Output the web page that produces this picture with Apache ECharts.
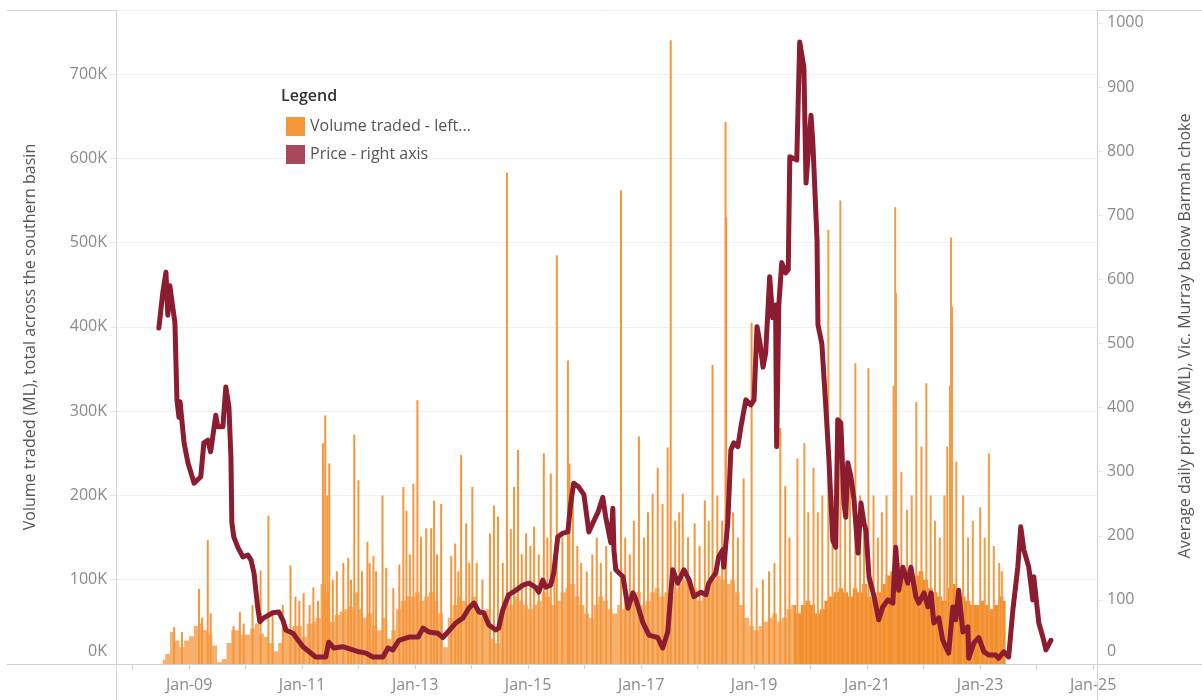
<!DOCTYPE html>
<html>
<head>
<meta charset="utf-8">
<script src="https://cdn.jsdelivr.net/npm/echarts@6/dist/echarts.min.js"></script>
<style>
html,body{margin:0;padding:0;background:#ffffff;}
#chart{width:1202px;height:700px;}
</style>
</head>
<body>
<div id="chart"></div>
<script>
// ---------------- DATA ----------------
// Monthly typical traded volume (thousand ML) - the dense base of daily bars
const volumeMonthly = [
  ['2008-07',5],['2008-08',12],['2008-09',38],['2008-10',28],['2008-11',20],['2008-12',28],
  ['2009-01',33],['2009-02',45],['2009-03',48],['2009-04',40],['2009-05',35],['2009-06',22],['2009-07',2],['2009-08',6],['2009-09',25],['2009-10',40],['2009-11',40],['2009-12',35],
  ['2010-01',35],['2010-02',42],['2010-03',48],['2010-04',36],['2010-05',32],['2010-06',25],['2010-07',15],['2010-08',25],['2010-09',45],['2010-10',40],['2010-11',45],['2010-12',45],
  ['2011-01',32],['2011-02',48],['2011-03',50],['2011-04',55],['2011-05',95],['2011-06',85],['2011-07',50],['2011-08',58],['2011-09',62],['2011-10',65],['2011-11',68],['2011-12',85],
  ['2012-01',65],['2012-02',55],['2012-03',60],['2012-04',45],['2012-05',40],['2012-06',55],['2012-07',30],['2012-08',40],['2012-09',65],['2012-10',75],['2012-11',80],['2012-12',80],
  ['2013-01',85],['2013-02',75],['2013-03',80],['2013-04',85],['2013-05',75],['2013-06',60],['2013-07',20],['2013-08',55],['2013-09',70],['2013-10',80],['2013-11',75],['2013-12',70],
  ['2014-01',80],['2014-02',60],['2014-03',55],['2014-04',65],['2014-05',30],['2014-06',25],['2014-07',60],['2014-08',75],['2014-09',70],['2014-10',80],['2014-11',75],['2014-12',70],
  ['2015-01',65],['2015-02',70],['2015-03',75],['2015-04',85],['2015-05',80],['2015-06',70],['2015-07',75],['2015-08',85],['2015-09',90],['2015-10',95],['2015-11',80],['2015-12',70],
  ['2016-01',60],['2016-02',55],['2016-03',70],['2016-04',80],['2016-05',75],['2016-06',65],['2016-07',60],['2016-08',70],['2016-09',65],['2016-10',75],['2016-11',80],['2016-12',85],
  ['2017-01',70],['2017-02',75],['2017-03',85],['2017-04',90],['2017-05',80],['2017-06',85],['2017-07',80],['2017-08',90],['2017-09',95],['2017-10',100],['2017-11',95],['2017-12',90],
  ['2018-01',75],['2018-02',80],['2018-03',95],['2018-04',100],['2018-05',105],['2018-06',100],['2018-07',95],['2018-08',100],['2018-09',85],['2018-10',70],['2018-11',55],['2018-12',45],
  ['2019-01',40],['2019-02',45],['2019-03',50],['2019-04',55],['2019-05',60],['2019-06',50],['2019-07',55],['2019-08',65],['2019-09',70],['2019-10',60],['2019-11',70],['2019-12',75],
  ['2020-01',70],['2020-02',60],['2020-03',65],['2020-04',75],['2020-05',80],['2020-06',85],['2020-07',90],['2020-08',85],['2020-09',80],['2020-10',90],['2020-11',85],['2020-12',95],
  ['2021-01',80],['2021-02',75],['2021-03',85],['2021-04',95],['2021-05',105],['2021-06',110],['2021-07',120],['2021-08',115],['2021-09',100],['2021-10',95],['2021-11',105],['2021-12',110],
  ['2022-01',100],['2022-02',90],['2022-03',85],['2022-04',80],['2022-05',75],['2022-06',90],['2022-07',95],['2022-08',85],['2022-09',80],['2022-10',75],['2022-11',70],['2022-12',70],
  ['2023-01',75],['2023-02',70],['2023-03',65],['2023-04',70],['2023-05',80],['2023-06',75]
];

// Notable single-day volume peaks (thousand ML)
const volumePeaks = [
  ['2008-09-20',44],['2008-11-10',38],
  ['2009-02-28',89],['2009-03-20',55],['2009-04-26',147],['2009-05-15',60],['2009-10-10',45],['2009-11-20',62],['2009-12-15',48],
  ['2010-02-10',70],['2010-04-03',111],['2010-05-24',176],['2010-06-20',60],['2010-08-25',70],['2010-10-14',117],['2010-11-15',80],['2010-12-10',75],
  ['2011-01-07',84],['2011-02-15',70],['2011-03-11',91],['2011-04-10',75],['2011-05-12',262],['2011-05-27',295],['2011-06-10',200],['2011-06-22',238],['2011-07-15',100],['2011-08-10',110],['2011-09-21',120],['2011-10-23',126],['2011-11-10',100],['2011-12-01',272],['2011-12-28',218],
  ['2012-01-20',110],['2012-02-24',145],['2012-03-10',120],['2012-04-03',128],['2012-04-20',110],['2012-06-01',200],['2012-06-25',114],['2012-08-10',90],['2012-09-18',118],['2012-10-14',210],['2012-11-03',182],['2012-11-25',130],['2012-12-18',214],
  ['2013-01-13',313],['2013-02-05',151],['2013-03-11',161],['2013-04-12',161],['2013-05-01',194],['2013-05-20',130],['2013-06-16',190],['2013-08-20',128],['2013-09-15',143],['2013-10-05',110],['2013-10-23',248],['2013-11-25',167],['2013-12-15',120],
  ['2014-01-04',210],['2014-02-01',120],['2014-03-10',100],['2014-04-28',155],['2014-05-24',188],['2014-06-19',175],['2014-07-20',120],['2014-08-16',583],['2014-09-10',160],['2014-10-01',210],['2014-10-27',254],['2014-11-20',130],['2014-12-18',155],
  ['2015-01-15',140],['2015-02-08',163],['2015-03-10',130],['2015-04-12',250],['2015-05-05',150],['2015-05-27',226],['2015-06-20',120],['2015-07-05',485],['2015-08-10',150],['2015-09-15',360],['2015-09-25',238],['2015-10-17',200],['2015-11-15',140],['2015-12-10',120],
  ['2016-01-15',110],['2016-02-20',130],['2016-03-20',150],['2016-04-15',120],['2016-05-20',140],['2016-06-20',110],['2016-08-24',562],['2016-09-20',150],['2016-10-20',130],['2016-11-15',170],['2016-12-18',270],
  ['2017-01-20',150],['2017-02-15',180],['2017-03-17',202],['2017-04-19',233],['2017-05-20',190],['2017-06-22',257],['2017-07-12',740],['2017-08-10',170],['2017-09-05',180],['2017-09-28',202],['2017-11-01',150],['2017-12-14',167],
  ['2018-01-15',140],['2018-02-18',194],['2018-03-15',170],['2018-04-09',355],['2018-05-10',200],['2018-06-10',170],['2018-07-02',643],['2018-07-06',530],['2018-08-20',180],['2018-09-20',150],['2018-10-27',220],['2018-12-18',405],
  ['2019-01-20',90],['2019-03-01',100],['2019-04-10',110],['2019-05-15',120],['2019-06-22',280],['2019-07-24',211],['2019-08-20',150],['2019-10-11',244],['2019-11-25',262],['2019-12-20',180],
  ['2020-01-23',233],['2020-02-20',180],['2020-03-20',200],['2020-04-28',515],['2020-05-25',200],['2020-06-20',250],['2020-07-15',550],['2020-08-15',230],['2020-09-15',210],['2020-10-20',357],['2020-11-20',200],['2020-12-15',180],
  ['2021-01-13',351],['2021-02-15',200],['2021-03-15',150],['2021-04-10',180],['2021-05-10',200],['2021-06-25',330],['2021-07-05',542],['2021-07-10',440],['2021-08-14',228],['2021-09-20',183],['2021-10-20',200],['2021-11-19',311],['2021-12-22',258],
  ['2022-01-23',333],['2022-02-20',200],['2022-03-20',170],['2022-04-20',150],['2022-05-20',200],['2022-06-07',258],['2022-06-25',330],['2022-07-02',506],['2022-07-08',424],['2022-08-05',240],['2022-09-18',200],['2022-10-20',150],['2022-11-20',170],
  ['2023-01-07',186],['2023-02-05',150],['2023-03-04',250],['2023-04-05',140],['2023-05-10',120],['2023-05-27',110]
];

// Average daily price ($/ML)
const pricePoints = [
  ['2008-06-19',524],['2008-07-15',580],['2008-08-04',611],['2008-08-16',544],['2008-08-29',590],['2008-09-12',565],['2008-10-01',532],['2008-10-14',412],['2008-10-27',385],['2008-11-03',409],['2008-11-29',345],['2008-12-24',314],
  ['2009-02-02',282],['2009-03-17',292],['2009-04-06',345],['2009-05-01',349],['2009-05-20',331],['2009-06-22',388],['2009-07-05',370],['2009-08-07',370],['2009-08-26',432],['2009-09-15',401],['2009-09-28',323],['2009-10-04',220],['2009-10-17',198],['2009-11-12',182],['2009-12-14',167],
  ['2010-01-16',170],['2010-02-05',162],['2010-02-24',142],['2010-03-20',89],['2010-04-03',66],['2010-04-28',72],['2010-06-25',80],['2010-08-04',81],['2010-08-29',69],['2010-09-18',53],['2010-11-03',48],
  ['2011-01-07',27],['2011-03-30',11],['2011-06-03',11],['2011-06-22',34],['2011-07-24',25],['2011-09-21',27],
  ['2012-01-04',19],['2012-02-18',17],['2012-04-03',11],['2012-06-07',11],['2012-07-09',25],['2012-08-10',22],['2012-09-18',37],['2012-11-22',42],
  ['2013-01-20',42],['2013-02-21',56],['2013-03-30',50],['2013-05-27',48],['2013-06-29',41],['2013-08-01',50],['2013-09-21',64],['2013-11-07',72],['2013-12-14',87],
  ['2014-01-16',95],['2014-02-18',81],['2014-03-20',80],['2014-04-22',61],['2014-06-07',53],['2014-06-25',56],['2014-07-21',84],['2014-08-29',108],['2014-10-14',115],['2014-11-29',123],
  ['2015-01-07',126],['2015-02-21',119],['2015-03-11',112],['2015-04-06',131],['2015-04-25',120],['2015-05-27',123],['2015-06-16',142],['2015-07-12',198],['2015-08-13',204],['2015-09-15',206],['2015-10-04',251],['2015-10-23',282],['2015-11-25',276],['2015-12-28',264],
  ['2016-01-29',206],['2016-02-24',220],['2016-03-27',236],['2016-04-28',260],['2016-05-17',229],['2016-06-19',189],['2016-07-02',243],['2016-07-09',178],['2016-07-21',147],['2016-09-06',136],['2016-10-08',87],['2016-11-09',111],['2016-11-29',100],
  ['2017-01-13',64],['2017-02-21',45],['2017-04-19',41],['2017-05-20',25],['2017-06-22',50],['2017-07-24',147],['2017-08-26',126],['2017-10-04',147],['2017-11-07',131],['2017-12-08',105],
  ['2018-01-23',112],['2018-02-24',108],['2018-03-14',126],['2018-04-28',142],['2018-05-17',167],['2018-06-12',178],['2018-06-19',151],['2018-07-15',220],['2018-08-04',334],['2018-08-23',345],['2018-09-18',339],['2018-10-08',370],['2018-11-09',412],['2018-12-11',404],
  ['2019-01-01',412],['2019-01-20',526],['2019-02-08',501],['2019-02-28',463],['2019-03-17',485],['2019-04-12',604],['2019-05-01',540],['2019-05-20',560],['2019-05-27',339],['2019-06-10',560],['2019-06-29',626],['2019-07-24',610],['2019-08-10',615],['2019-08-20',791],['2019-10-04',786],['2019-10-23',970],['2019-11-19',931],['2019-12-03',750],
  ['2020-01-04',856],['2020-01-16',813],['2020-02-12',661],['2020-02-18',529],['2020-03-14',500],['2020-04-09',401],['2020-04-28',323],['2020-05-24',193],['2020-06-12',182],['2020-06-25',381],['2020-07-15',376],['2020-08-04',251],['2020-08-16',229],['2020-08-29',314],['2020-09-18',292],['2020-10-08',256],['2020-11-03',173],['2020-11-22',251],['2020-12-11',220],['2020-12-24',209],
  ['2021-01-13',136],['2021-02-15',105],['2021-03-17',69],['2021-04-12',89],['2021-05-15',100],['2021-06-16',95],['2021-07-05',182],['2021-07-24',115],['2021-08-20',151],['2021-09-21',126],['2021-10-11',151],['2021-11-12',105],['2021-12-01',95],
  ['2022-01-04',111],['2022-01-29',89],['2022-02-18',111],['2022-03-08',64],['2022-04-09',72],['2022-05-05',37],['2022-06-12',17],['2022-07-09',89],['2022-07-28',69],['2022-08-16',115],['2022-09-12',50],['2022-10-14',58],['2022-10-20',9],['2022-11-22',33],['2022-12-24',41],
  ['2023-01-26',19],['2023-02-28',14],['2023-04-12',14],['2023-05-01',9],['2023-06-03',19],['2023-07-05',11],['2023-08-01',84],['2023-09-02',151],['2023-09-21',214],['2023-10-11',178],['2023-11-12',151],['2023-12-08',100],['2023-12-14',136],
  ['2024-01-16',64],['2024-02-12',41],['2024-03-02',22],['2024-04-03',37]
];

const seriesNames = ['Volume traded - left axis', 'Price - right axis'];
const legendLabels = ['Volume traded - left...', 'Price - right axis'];
const leftTitle = 'Volume traded (ML), total across the southern basin';
const rightTitle = 'Average daily price ($/ML), Vic. Murray below Barmah choke';
const colourChangeMonth = '2019-10';

// ---------------- CHART ----------------
const FONT = '"Open Sans", "DejaVu Sans", sans-serif';
const LABEL_COLOR = '#8a8a8a';
const DAY = 24 * 3600 * 1000;
const chart = echarts.init(document.getElementById('chart'), null, {renderer: 'canvas'});

const xMin = '2007-09-16', xMax = '2025-01-26';

function yearLabel(val) {
  const d = new Date(val);
  if (d.getMonth() === 0 && d.getDate() === 1 && d.getFullYear() % 2 === 1) {
    return 'Jan-' + String(d.getFullYear()).slice(2);
  }
  return '';
}

// monthly base split into the lighter (earlier) and stronger (later) colour periods
const baseToPoint = ([m, v]) => [m + '-15', v * 1000];
const changeIdx = volumeMonthly.findIndex(([m]) => m >= colourChangeMonth);
const baseEarly = volumeMonthly.slice(0, changeIdx + 1).map(baseToPoint);
const baseLate = volumeMonthly.slice(changeIdx - 1).map(baseToPoint);

function baseSeries(data, colour, z) {
  return {
    name: seriesNames[0], type: 'line', xAxisIndex: 0, yAxisIndex: 0,
    step: 'middle', showSymbol: false, symbol: 'none', z: z,
    lineStyle: {width: 0, color: colour},
    itemStyle: {color: colour},
    areaStyle: {color: colour, opacity: 1},
    data: data
  };
}

const option = {
  backgroundColor: '#ffffff',
  animation: false,
  title: {
    text: 'Legend', left: 276, top: 83,
    textStyle: {fontFamily: FONT, fontSize: 16, fontWeight: 600, color: '#333333'}
  },
  legend: {
    orient: 'vertical', left: 281, top: 112,
    itemWidth: 19, itemHeight: 19, itemGap: 9, icon: 'rect', selectedMode: false,
    textStyle: {fontFamily: FONT, fontSize: 16, color: '#555555'},
    formatter: name => legendLabels[seriesNames.indexOf(name)],
    data: [
      {name: seriesNames[0], itemStyle: {color: '#f5973a'}},
      {name: seriesNames[1], itemStyle: {color: '#a84858'}}
    ]
  },
  grid: {left: 116, right: 105, top: 10, bottom: 36, containLabel: false},
  xAxis: [
    {
      type: 'time', min: xMin, max: xMax,
      minInterval: 365 * DAY, maxInterval: 366 * DAY,
      axisLine: {show: false},
      axisTick: {show: true, length: 5, lineStyle: {color: '#d0d0d0'}},
      axisLabel: {formatter: yearLabel, color: LABEL_COLOR, fontFamily: FONT, fontSize: 16, margin: 13,
                  showMinLabel: false, showMaxLabel: false, hideOverlap: false},
      splitLine: {show: false}
    },
    {type: 'time', min: xMin, max: xMax, show: false}
  ],
  yAxis: [
    {
      type: 'value', min: 0, max: 776000, interval: 100000, position: 'left',
      axisLine: {show: false},
      axisTick: {show: true, length: 6, lineStyle: {color: '#e6e6e6'}},
      axisLabel: {
        color: LABEL_COLOR, fontFamily: FONT, fontSize: 16, margin: 9, showMaxLabel: false,
        formatter: v => v === 0 ? '{z|0K}' : (v / 1000) + 'K',
        rich: {z: {color: LABEL_COLOR, fontFamily: FONT, fontSize: 16, padding: [0, 0, 26, 0]}}
      },
      splitLine: {show: true, lineStyle: {color: '#efefef', width: 1}}
    },
    {
      type: 'value', min: 0, max: 1020, interval: 100, position: 'right',
      axisLine: {show: false},
      axisTick: {show: true, length: 6, lineStyle: {color: '#e6e6e6'}},
      axisLabel: {
        color: LABEL_COLOR, fontFamily: FONT, fontSize: 16, margin: 10, showMaxLabel: false,
        formatter: v => v === 0 ? '{z|0}' : String(v),
        rich: {z: {color: LABEL_COLOR, fontFamily: FONT, fontSize: 16, padding: [0, 0, 26, 0]}}
      },
      splitLine: {show: false}
    }
  ],
  graphic: [
    {type: 'line', shape: {x1: 7, y1: 10.5, x2: 1202, y2: 10.5}, style: {stroke: '#d4d4d4', lineWidth: 1}, z: 0, silent: true},
    {type: 'line', shape: {x1: 7, y1: 664.5, x2: 1202, y2: 664.5}, style: {stroke: '#cfcfcf', lineWidth: 1}, z: 100, silent: true},
    {type: 'line', shape: {x1: 116.5, y1: 10, x2: 116.5, y2: 700}, style: {stroke: '#d4d4d4', lineWidth: 1}, z: 100, silent: true},
    {type: 'line', shape: {x1: 1097.5, y1: 10, x2: 1097.5, y2: 700}, style: {stroke: '#d4d4d4', lineWidth: 1}, z: 100, silent: true},
    {type: 'text', x: 30, y: 337, rotation: Math.PI / 2,
     style: {text: leftTitle, fontFamily: FONT, fontSize: 16, fill: '#555555', align: 'center', verticalAlign: 'middle'}},
    {type: 'text', x: 1185, y: 336, rotation: Math.PI / 2,
     style: {text: rightTitle, fontFamily: FONT, fontSize: 16, fill: '#555555', align: 'center', verticalAlign: 'middle'}}
  ],
  series: [
    baseSeries(baseEarly, '#f6b06b', 2),
    baseSeries(baseLate, '#f28e2b', 2),
    {
      name: seriesNames[0], type: 'bar', xAxisIndex: 1, yAxisIndex: 0,
      barWidth: 2, z: 3,
      itemStyle: {color: p => (p.data[0] >= colourChangeMonth ? '#f39b45' : '#f5963c')},
      data: volumePeaks.map(([d, v]) => [d, v * 1000])
    },
    {
      name: seriesNames[1], type: 'line', xAxisIndex: 0, yAxisIndex: 1,
      showSymbol: false, z: 5,
      lineStyle: {color: '#8c1c30', width: 5, join: 'round', cap: 'round'},
      itemStyle: {color: '#8c1c30'},
      data: pricePoints
    }
  ]
};
chart.setOption(option);
</script>
</body>
</html>
